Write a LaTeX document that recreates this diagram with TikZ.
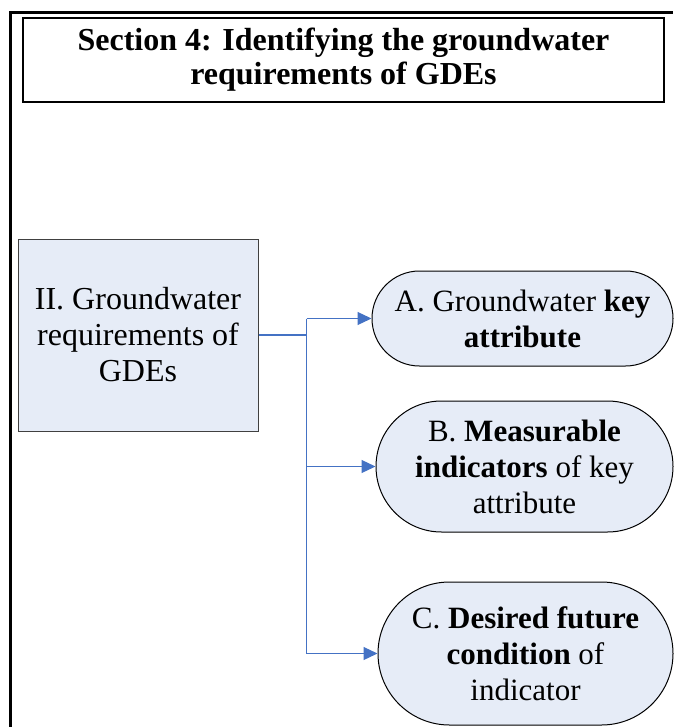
\documentclass[tikz,border=0pt]{standalone}
\usepackage{fontspec}
\setmainfont{Liberation Serif}
\usetikzlibrary{shapes,calc,arrows.meta,positioning}
\definecolor{boxfill}{RGB}{230,236,247}
\definecolor{linkblue}{RGB}{68,114,196}
\tikzstyle{arrow} = [draw=linkblue, -{Triangle[length=14pt,width=13pt]}, line width=1.2pt]
\tikzstyle{link} = [draw=linkblue, line width=1.2pt]
\tikzstyle{oval} = [rounded rectangle, draw, fill=boxfill, line width=1pt, align=center, inner sep=0pt, font=\fontsize{31}{36}\selectfont]

\begin{document}
\begin{tikzpicture}[x=1pt,y=-1pt]
      \useasboundingbox (0,0) rectangle (673,727);
      \draw[line width=3pt] (10.5,727) -- (10.5,12.5) -- (673,12.5);
      \node[draw, line width=1.3pt, minimum width=641pt, minimum height=84pt, align=center, font=\bfseries\fontsize{32}{34}\selectfont] (title) at (343.5,60) {Section 4: Identifying the groundwater\\requirements of GDEs};
      \node[draw=black!75, fill=boxfill, line width=1pt, minimum width=240pt, minimum height=192pt, align=center, font=\fontsize{32}{36}\selectfont] (req) at (138,335) {II. Groundwater\\requirements of\\GDEs};
      \node[oval, minimum width=301pt, minimum height=95pt] (attr) at (522.5,318.5) {A. Groundwater \textbf{key}\\\textbf{attribute}};
      \node[oval, minimum width=297pt, minimum height=131pt] (ind) at (524.5,466.5) {B. \textbf{Measurable}\\\textbf{indicators} of key\\attribute};
      \node[oval, minimum width=295pt, minimum height=143pt] (cond) at (525.5,653.5) {C. \textbf{Desired future}\\\textbf{condition} of\\indicator};
      \draw[link] (req.east) -- ++(48,0) coordinate (fork);
      \draw[link] (fork |- attr.west) -- (fork |- cond.west);
      \draw[arrow] (fork |- attr.west) -- (attr.west);
      \draw[arrow] (fork |- ind.west) -- (ind.west);
      \draw[arrow] (fork |- cond.west) -- (cond.west);
    \end{tikzpicture}
\end{document}
